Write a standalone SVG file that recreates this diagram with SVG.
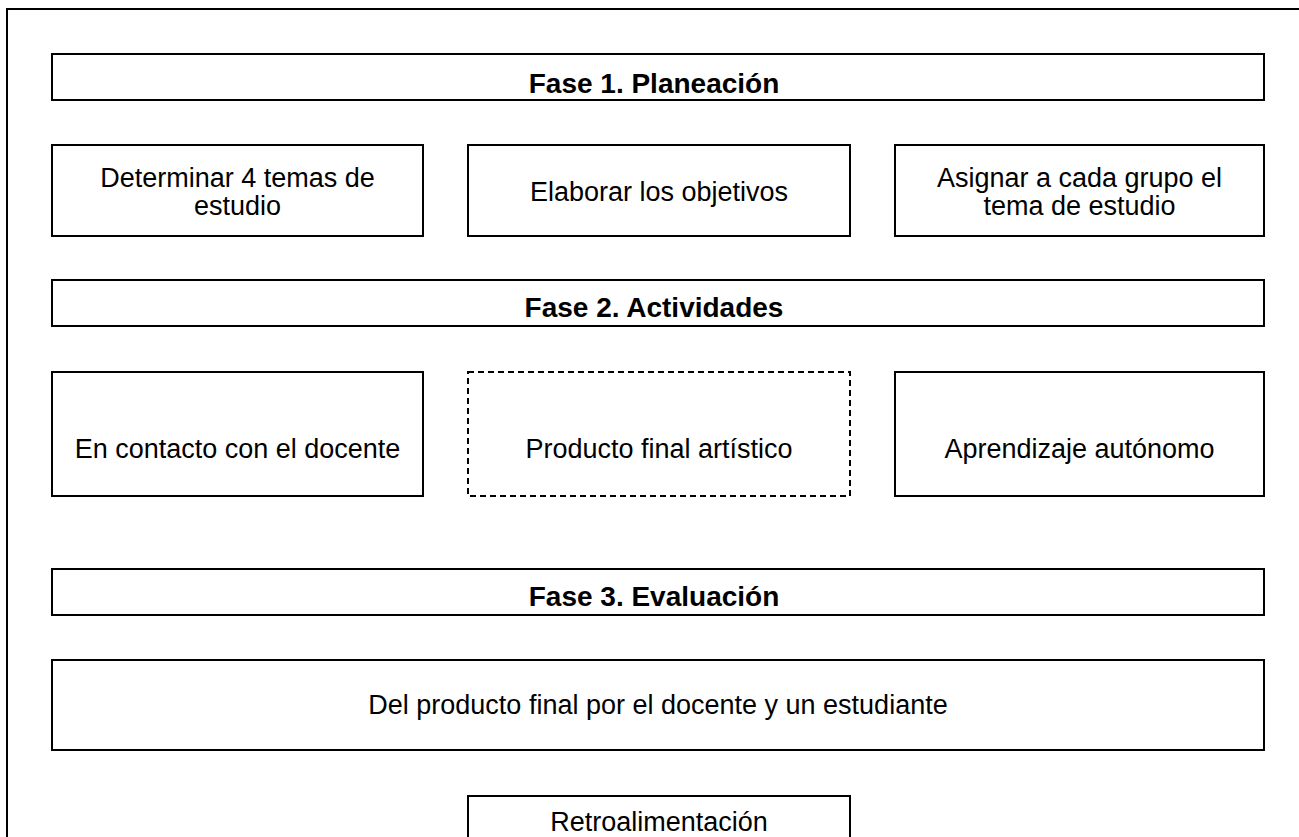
<svg xmlns="http://www.w3.org/2000/svg" width="1299" height="837" viewBox="0 0 1299 837">
<style>
.box{fill:#fff;stroke:#000;stroke-width:2}
.dash{fill:#fff;stroke:#000;stroke-width:2;stroke-dasharray:6 4}
.t{font-family:"Liberation Sans",Arial,Helvetica,sans-serif;font-size:27px;fill:#000;text-anchor:middle}
.b{font-weight:bold;font-size:28px}
</style>
<rect x="0" y="0" width="1299" height="837" fill="#fff"/>
<g id="frame"><path d="M7 837 V9 H1299" fill="none" stroke="#000" stroke-width="2"/></g>
<g id="fase1"><rect class="box" x="52" y="54" width="1212" height="46"/><text class="t b" x="654" y="93">Fase 1. Planeación</text></g>
<g id="determinar"><rect class="box" x="52" y="145" width="371" height="91"/><text class="t" x="237.5" y="187">Determinar 4 temas de</text><text class="t" x="237.5" y="215">estudio</text></g>
<g id="objetivos"><rect class="box" x="468" y="145" width="382" height="91"/><text class="t" x="659" y="201">Elaborar los objetivos</text></g>
<g id="asignar"><rect class="box" x="895" y="145" width="369" height="91"/><text class="t" x="1079.5" y="187">Asignar a cada grupo el</text><text class="t" x="1079.5" y="215">tema de estudio</text></g>
<g id="fase2"><rect class="box" x="52" y="280" width="1212" height="46"/><text class="t b" x="654" y="317">Fase 2. Actividades</text></g>
<g id="contacto"><rect class="box" x="52" y="372" width="371" height="124"/><text class="t" x="237.5" y="458">En contacto con el docente</text></g>
<g id="producto"><rect class="dash" x="468" y="372" width="382" height="124"/><text class="t" x="659" y="458">Producto final artístico</text></g>
<g id="autonomo"><rect class="box" x="895" y="372" width="369" height="124"/><text class="t" x="1079.5" y="458">Aprendizaje autónomo</text></g>
<g id="fase3"><rect class="box" x="52" y="569" width="1212" height="46"/><text class="t b" x="654" y="606">Fase 3. Evaluación</text></g>
<g id="evaluacion"><rect class="box" x="52" y="660" width="1212" height="90"/><text class="t" x="658" y="714">Del producto final por el docente y un estudiante</text></g>
<g id="retro"><rect class="box" x="468" y="796" width="382" height="60"/><text class="t" x="659" y="831">Retroalimentación</text></g>
<g id="connectors"></g>
</svg>
